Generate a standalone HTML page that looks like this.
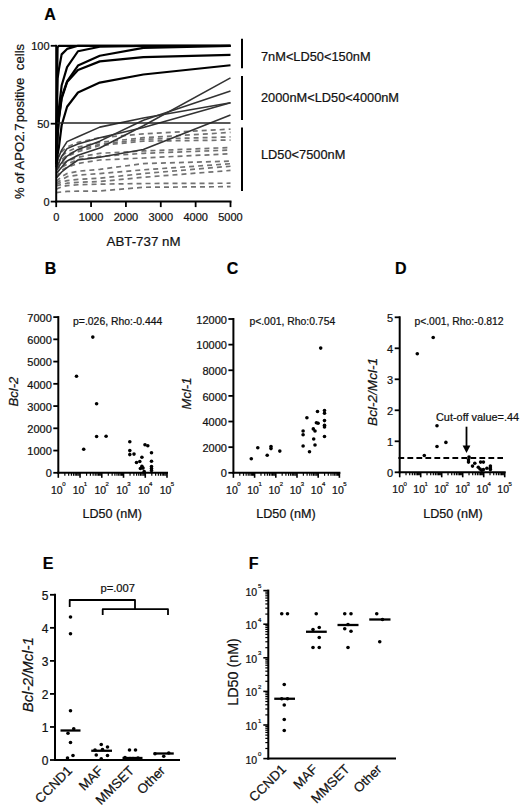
<!DOCTYPE html>
<html><head><meta charset="utf-8"><style>
html,body{margin:0;padding:0;background:#fff;width:520px;height:812px;overflow:hidden;}
svg{display:block;}
text{font-family:"Liberation Sans", sans-serif;stroke:#111;stroke-width:0.22px;}
</style></head><body>
<svg width="520" height="812" viewBox="0 0 520 812" font-family="Liberation Sans, sans-serif">
<rect width="520" height="812" fill="#fff"/>
<text x="50.00" y="19.50" font-size="16" text-anchor="middle" font-weight="bold" font-style="normal" fill="#000" >A</text>
<polyline points="56.20,159.53 61.64,151.74 67.08,147.07 77.99,142.40 99.78,137.72 143.35,133.83 230.50,129.15" fill="none" stroke="#727272" stroke-width="1.7" stroke-linejoin="round" stroke-dasharray="5,4" opacity="1"/>
<polyline points="56.20,162.65 61.64,156.42 67.08,151.74 77.99,147.07 99.78,142.40 143.35,137.72 230.50,132.42" fill="none" stroke="#727272" stroke-width="1.7" stroke-linejoin="round" stroke-dasharray="5,4" opacity="1"/>
<polyline points="56.20,165.77 61.64,159.53 67.08,154.86 77.99,150.19 99.78,144.42 143.35,139.28 230.50,136.94" fill="none" stroke="#727272" stroke-width="1.7" stroke-linejoin="round" stroke-dasharray="5,4" opacity="1"/>
<polyline points="56.20,167.32 61.64,161.09 67.08,156.42 77.99,151.74 99.78,145.51 143.35,141.15 230.50,140.06" fill="none" stroke="#727272" stroke-width="1.7" stroke-linejoin="round" stroke-dasharray="5,4" opacity="1"/>
<polyline points="56.20,170.44 61.64,164.21 67.08,161.09 77.99,157.20 99.78,153.30 143.35,150.96 230.50,147.54" fill="none" stroke="#727272" stroke-width="1.7" stroke-linejoin="round" stroke-dasharray="5,4" opacity="1"/>
<polyline points="56.20,173.56 61.64,167.32 67.08,164.21 77.99,159.53 99.78,156.42 143.35,153.30 230.50,150.03" fill="none" stroke="#727272" stroke-width="1.7" stroke-linejoin="round" stroke-dasharray="5,4" opacity="1"/>
<polyline points="56.20,176.67 61.64,170.44 67.08,167.32 77.99,163.43 99.78,160.00 143.35,157.98 230.50,153.77" fill="none" stroke="#727272" stroke-width="1.7" stroke-linejoin="round" stroke-dasharray="5,4" opacity="1"/>
<polyline points="56.20,181.35 61.64,176.67 67.08,173.56 77.99,171.22 99.78,169.35 143.35,163.58 230.50,161.09" fill="none" stroke="#727272" stroke-width="1.7" stroke-linejoin="round" stroke-dasharray="5,4" opacity="1"/>
<polyline points="56.20,182.90 61.64,179.79 67.08,176.67 77.99,175.11 99.78,173.56 143.35,169.82 230.50,163.74" fill="none" stroke="#727272" stroke-width="1.7" stroke-linejoin="round" stroke-dasharray="5,4" opacity="1"/>
<polyline points="56.20,184.46 61.64,182.12 67.08,180.57 77.99,179.32 99.78,178.23 143.35,173.56 230.50,166.23" fill="none" stroke="#727272" stroke-width="1.7" stroke-linejoin="round" stroke-dasharray="5,4" opacity="1"/>
<polyline points="56.20,186.02 61.64,184.46 67.08,183.22 77.99,182.28 99.78,181.50 143.35,177.30 230.50,170.44" fill="none" stroke="#727272" stroke-width="1.7" stroke-linejoin="round" stroke-dasharray="5,4" opacity="1"/>
<polyline points="56.20,189.14 61.64,186.80 67.08,185.55 77.99,184.77 99.78,184.15 143.35,183.53 230.50,183.22" fill="none" stroke="#727272" stroke-width="1.7" stroke-linejoin="round" stroke-dasharray="5,4" opacity="1"/>
<polyline points="56.20,192.56 61.64,191.94 67.08,191.47 77.99,191.16 99.78,191.01 143.35,187.27 230.50,186.64" fill="none" stroke="#727272" stroke-width="1.7" stroke-linejoin="round" stroke-dasharray="5,4" opacity="1"/>
<polyline points="56.20,162.65 61.64,150.19 67.08,141.62 77.99,136.79 99.78,127.13 143.35,117.94 230.50,102.67" fill="none" stroke="#333" stroke-width="1.6" stroke-linejoin="round"  opacity="1"/>
<polyline points="56.20,168.88 61.64,156.42 67.08,148.63 77.99,143.95 99.78,137.72 143.35,127.59 230.50,102.67" fill="none" stroke="#333" stroke-width="1.6" stroke-linejoin="round"  opacity="1"/>
<polyline points="56.20,170.44 61.64,162.65 67.08,156.11 77.99,149.41 99.78,141.15 143.35,120.27 230.50,90.98" fill="none" stroke="#333" stroke-width="1.6" stroke-linejoin="round"  opacity="1"/>
<polyline points="56.20,173.56 61.64,167.32 67.08,160.94 77.99,155.17 99.78,148.00 143.35,125.73 230.50,77.89" fill="none" stroke="#333" stroke-width="1.6" stroke-linejoin="round"  opacity="1"/>
<polyline points="56.20,178.23 61.64,172.00 67.08,167.64 77.99,160.00 99.78,157.20 143.35,149.56 230.50,114.98" fill="none" stroke="#333" stroke-width="1.6" stroke-linejoin="round"  opacity="1"/>
<polyline points="56.20,154.86 57.56,47.36 58.92,45.80 61.64,45.80 67.08,45.80 77.99,45.80 99.78,45.80 143.35,45.80 230.50,45.80" fill="none" stroke="#000" stroke-width="2.2" stroke-linejoin="round"  opacity="1"/>
<polyline points="56.20,157.98 57.56,78.52 58.92,69.17 61.64,54.37 67.08,48.92 77.99,45.80 99.78,45.80 143.35,45.80 230.50,45.80" fill="none" stroke="#000" stroke-width="2.2" stroke-linejoin="round"  opacity="1"/>
<polyline points="56.20,161.09 57.56,126.82 58.92,108.12 61.64,85.53 67.08,67.14 77.99,51.25 99.78,46.73 143.35,45.80 230.50,45.80" fill="none" stroke="#000" stroke-width="2.2" stroke-linejoin="round"  opacity="1"/>
<polyline points="56.20,164.21 57.56,136.16 58.92,117.47 61.64,97.21 67.08,81.32 77.99,65.59 99.78,55.77 143.35,47.83 230.50,45.80" fill="none" stroke="#000" stroke-width="2.2" stroke-linejoin="round"  opacity="1"/>
<polyline points="56.20,164.21 57.56,136.16 58.92,119.03 61.64,98.77 67.08,82.10 77.99,70.10 99.78,61.38 143.35,57.17 230.50,54.84" fill="none" stroke="#000" stroke-width="2.2" stroke-linejoin="round"  opacity="1"/>
<polyline points="56.20,167.32 57.56,154.86 58.92,147.07 61.64,125.26 67.08,106.72 77.99,92.54 99.78,82.57 143.35,74.47 230.50,65.27" fill="none" stroke="#000" stroke-width="2.2" stroke-linejoin="round"  opacity="1"/>
<line x1="56.20" y1="123.00" x2="230.50" y2="123.00" stroke="#222" stroke-width="1.3" />
<line x1="56.20" y1="44.80" x2="56.20" y2="202.60" stroke="#000" stroke-width="2" />
<line x1="55.20" y1="201.60" x2="231.50" y2="201.60" stroke="#000" stroke-width="2" />
<line x1="50.70" y1="201.60" x2="56.20" y2="201.60" stroke="#000" stroke-width="1.8" />
<text x="49.50" y="206.25" font-size="11" text-anchor="end" font-weight="normal" font-style="normal" fill="#111" >0</text>
<line x1="50.70" y1="123.70" x2="56.20" y2="123.70" stroke="#000" stroke-width="1.8" />
<text x="49.50" y="128.35" font-size="11" text-anchor="end" font-weight="normal" font-style="normal" fill="#111" >50</text>
<line x1="50.70" y1="45.80" x2="56.20" y2="45.80" stroke="#000" stroke-width="1.8" />
<text x="49.50" y="50.45" font-size="11" text-anchor="end" font-weight="normal" font-style="normal" fill="#111" >100</text>
<line x1="56.20" y1="201.60" x2="56.20" y2="207.10" stroke="#000" stroke-width="1.8" />
<text x="56.20" y="220.60" font-size="11" text-anchor="middle" font-weight="normal" font-style="normal" fill="#111" >0</text>
<line x1="91.06" y1="201.60" x2="91.06" y2="207.10" stroke="#000" stroke-width="1.8" />
<text x="91.06" y="220.60" font-size="11" text-anchor="middle" font-weight="normal" font-style="normal" fill="#111" >1000</text>
<line x1="125.92" y1="201.60" x2="125.92" y2="207.10" stroke="#000" stroke-width="1.8" />
<text x="125.92" y="220.60" font-size="11" text-anchor="middle" font-weight="normal" font-style="normal" fill="#111" >2000</text>
<line x1="160.78" y1="201.60" x2="160.78" y2="207.10" stroke="#000" stroke-width="1.8" />
<text x="160.78" y="220.60" font-size="11" text-anchor="middle" font-weight="normal" font-style="normal" fill="#111" >3000</text>
<line x1="195.64" y1="201.60" x2="195.64" y2="207.10" stroke="#000" stroke-width="1.8" />
<text x="195.64" y="220.60" font-size="11" text-anchor="middle" font-weight="normal" font-style="normal" fill="#111" >4000</text>
<line x1="230.50" y1="201.60" x2="230.50" y2="207.10" stroke="#000" stroke-width="1.8" />
<text x="230.50" y="220.60" font-size="11" text-anchor="middle" font-weight="normal" font-style="normal" fill="#111" >5000</text>
<text x="143.50" y="246.20" font-size="13.3" text-anchor="middle" font-weight="normal" font-style="normal" fill="#111" >ABT-737 nM</text>
<text xml:space="preserve" transform="translate(23.9,121.4) rotate(-90)" font-size="13.2" text-anchor="middle" fill="#111">% of APO2.7<tspan dx="1.2">positive  cells</tspan></text>
<line x1="242.00" y1="38.80" x2="242.00" y2="68.30" stroke="#000" stroke-width="2" />
<line x1="242.00" y1="76.00" x2="242.00" y2="120.00" stroke="#000" stroke-width="2" />
<line x1="242.00" y1="127.40" x2="242.00" y2="191.00" stroke="#000" stroke-width="2" />
<text x="261.00" y="61.00" font-size="12.8" text-anchor="start" font-weight="normal" font-style="normal" fill="#111" >7nM&lt;LD50&lt;150nM</text>
<text x="261.00" y="101.50" font-size="12.8" text-anchor="start" font-weight="normal" font-style="normal" fill="#111" >2000nM&lt;LD50&lt;4000nM</text>
<text x="261.00" y="159.00" font-size="12.8" text-anchor="start" font-weight="normal" font-style="normal" fill="#111" >LD50&lt;7500nM</text>
<text x="50.50" y="273.50" font-size="16" text-anchor="middle" font-weight="bold" font-style="normal" fill="#000" >B</text>
<line x1="58.30" y1="316.10" x2="58.30" y2="473.80" stroke="#000" stroke-width="2" />
<line x1="53.30" y1="472.80" x2="58.30" y2="472.80" stroke="#000" stroke-width="1.8" />
<text x="51.80" y="477.49" font-size="11" text-anchor="end" font-weight="normal" font-style="normal" fill="#111" >0</text>
<line x1="53.30" y1="450.56" x2="58.30" y2="450.56" stroke="#000" stroke-width="1.8" />
<text x="51.80" y="455.25" font-size="11" text-anchor="end" font-weight="normal" font-style="normal" fill="#111" >1000</text>
<line x1="53.30" y1="428.31" x2="58.30" y2="428.31" stroke="#000" stroke-width="1.8" />
<text x="51.80" y="433.00" font-size="11" text-anchor="end" font-weight="normal" font-style="normal" fill="#111" >2000</text>
<line x1="53.30" y1="406.07" x2="58.30" y2="406.07" stroke="#000" stroke-width="1.8" />
<text x="51.80" y="410.76" font-size="11" text-anchor="end" font-weight="normal" font-style="normal" fill="#111" >3000</text>
<line x1="53.30" y1="383.83" x2="58.30" y2="383.83" stroke="#000" stroke-width="1.8" />
<text x="51.80" y="388.52" font-size="11" text-anchor="end" font-weight="normal" font-style="normal" fill="#111" >4000</text>
<line x1="53.30" y1="361.59" x2="58.30" y2="361.59" stroke="#000" stroke-width="1.8" />
<text x="51.80" y="366.27" font-size="11" text-anchor="end" font-weight="normal" font-style="normal" fill="#111" >5000</text>
<line x1="53.30" y1="339.34" x2="58.30" y2="339.34" stroke="#000" stroke-width="1.8" />
<text x="51.80" y="344.03" font-size="11" text-anchor="end" font-weight="normal" font-style="normal" fill="#111" >6000</text>
<line x1="53.30" y1="317.10" x2="58.30" y2="317.10" stroke="#000" stroke-width="1.8" />
<text x="51.80" y="321.79" font-size="11" text-anchor="end" font-weight="normal" font-style="normal" fill="#111" >7000</text>
<line x1="57.30" y1="472.80" x2="168.00" y2="472.80" stroke="#000" stroke-width="2" />
<line x1="58.30" y1="472.80" x2="58.30" y2="477.80" stroke="#000" stroke-width="1.6" />
<text x="56.80" y="493.60" font-size="10.5" text-anchor="middle" font-weight="normal" font-style="normal" fill="#111" >10</text>
<text x="63.80" y="486.30" font-size="6" text-anchor="middle" font-weight="normal" font-style="normal" fill="#111" >0</text>
<line x1="64.84" y1="472.80" x2="64.84" y2="475.80" stroke="#000" stroke-width="1.2" />
<line x1="68.67" y1="472.80" x2="68.67" y2="475.80" stroke="#000" stroke-width="1.2" />
<line x1="71.39" y1="472.80" x2="71.39" y2="475.80" stroke="#000" stroke-width="1.2" />
<line x1="73.50" y1="472.80" x2="73.50" y2="475.80" stroke="#000" stroke-width="1.2" />
<line x1="75.22" y1="472.80" x2="75.22" y2="475.80" stroke="#000" stroke-width="1.2" />
<line x1="76.67" y1="472.80" x2="76.67" y2="475.80" stroke="#000" stroke-width="1.2" />
<line x1="77.93" y1="472.80" x2="77.93" y2="475.80" stroke="#000" stroke-width="1.2" />
<line x1="79.05" y1="472.80" x2="79.05" y2="475.80" stroke="#000" stroke-width="1.2" />
<line x1="80.04" y1="472.80" x2="80.04" y2="477.80" stroke="#000" stroke-width="1.6" />
<text x="78.54" y="493.60" font-size="10.5" text-anchor="middle" font-weight="normal" font-style="normal" fill="#111" >10</text>
<text x="85.54" y="486.30" font-size="6" text-anchor="middle" font-weight="normal" font-style="normal" fill="#111" >1</text>
<line x1="86.58" y1="472.80" x2="86.58" y2="475.80" stroke="#000" stroke-width="1.2" />
<line x1="90.41" y1="472.80" x2="90.41" y2="475.80" stroke="#000" stroke-width="1.2" />
<line x1="93.13" y1="472.80" x2="93.13" y2="475.80" stroke="#000" stroke-width="1.2" />
<line x1="95.24" y1="472.80" x2="95.24" y2="475.80" stroke="#000" stroke-width="1.2" />
<line x1="96.96" y1="472.80" x2="96.96" y2="475.80" stroke="#000" stroke-width="1.2" />
<line x1="98.41" y1="472.80" x2="98.41" y2="475.80" stroke="#000" stroke-width="1.2" />
<line x1="99.67" y1="472.80" x2="99.67" y2="475.80" stroke="#000" stroke-width="1.2" />
<line x1="100.79" y1="472.80" x2="100.79" y2="475.80" stroke="#000" stroke-width="1.2" />
<line x1="101.78" y1="472.80" x2="101.78" y2="477.80" stroke="#000" stroke-width="1.6" />
<text x="100.28" y="493.60" font-size="10.5" text-anchor="middle" font-weight="normal" font-style="normal" fill="#111" >10</text>
<text x="107.28" y="486.30" font-size="6" text-anchor="middle" font-weight="normal" font-style="normal" fill="#111" >2</text>
<line x1="108.32" y1="472.80" x2="108.32" y2="475.80" stroke="#000" stroke-width="1.2" />
<line x1="112.15" y1="472.80" x2="112.15" y2="475.80" stroke="#000" stroke-width="1.2" />
<line x1="114.87" y1="472.80" x2="114.87" y2="475.80" stroke="#000" stroke-width="1.2" />
<line x1="116.98" y1="472.80" x2="116.98" y2="475.80" stroke="#000" stroke-width="1.2" />
<line x1="118.70" y1="472.80" x2="118.70" y2="475.80" stroke="#000" stroke-width="1.2" />
<line x1="120.15" y1="472.80" x2="120.15" y2="475.80" stroke="#000" stroke-width="1.2" />
<line x1="121.41" y1="472.80" x2="121.41" y2="475.80" stroke="#000" stroke-width="1.2" />
<line x1="122.53" y1="472.80" x2="122.53" y2="475.80" stroke="#000" stroke-width="1.2" />
<line x1="123.52" y1="472.80" x2="123.52" y2="477.80" stroke="#000" stroke-width="1.6" />
<text x="122.02" y="493.60" font-size="10.5" text-anchor="middle" font-weight="normal" font-style="normal" fill="#111" >10</text>
<text x="129.02" y="486.30" font-size="6" text-anchor="middle" font-weight="normal" font-style="normal" fill="#111" >3</text>
<line x1="130.06" y1="472.80" x2="130.06" y2="475.80" stroke="#000" stroke-width="1.2" />
<line x1="133.89" y1="472.80" x2="133.89" y2="475.80" stroke="#000" stroke-width="1.2" />
<line x1="136.61" y1="472.80" x2="136.61" y2="475.80" stroke="#000" stroke-width="1.2" />
<line x1="138.72" y1="472.80" x2="138.72" y2="475.80" stroke="#000" stroke-width="1.2" />
<line x1="140.44" y1="472.80" x2="140.44" y2="475.80" stroke="#000" stroke-width="1.2" />
<line x1="141.89" y1="472.80" x2="141.89" y2="475.80" stroke="#000" stroke-width="1.2" />
<line x1="143.15" y1="472.80" x2="143.15" y2="475.80" stroke="#000" stroke-width="1.2" />
<line x1="144.27" y1="472.80" x2="144.27" y2="475.80" stroke="#000" stroke-width="1.2" />
<line x1="145.26" y1="472.80" x2="145.26" y2="477.80" stroke="#000" stroke-width="1.6" />
<text x="143.76" y="493.60" font-size="10.5" text-anchor="middle" font-weight="normal" font-style="normal" fill="#111" >10</text>
<text x="150.76" y="486.30" font-size="6" text-anchor="middle" font-weight="normal" font-style="normal" fill="#111" >4</text>
<line x1="151.80" y1="472.80" x2="151.80" y2="475.80" stroke="#000" stroke-width="1.2" />
<line x1="155.63" y1="472.80" x2="155.63" y2="475.80" stroke="#000" stroke-width="1.2" />
<line x1="158.35" y1="472.80" x2="158.35" y2="475.80" stroke="#000" stroke-width="1.2" />
<line x1="160.46" y1="472.80" x2="160.46" y2="475.80" stroke="#000" stroke-width="1.2" />
<line x1="162.18" y1="472.80" x2="162.18" y2="475.80" stroke="#000" stroke-width="1.2" />
<line x1="163.63" y1="472.80" x2="163.63" y2="475.80" stroke="#000" stroke-width="1.2" />
<line x1="164.89" y1="472.80" x2="164.89" y2="475.80" stroke="#000" stroke-width="1.2" />
<line x1="166.01" y1="472.80" x2="166.01" y2="475.80" stroke="#000" stroke-width="1.2" />
<line x1="167.00" y1="472.80" x2="167.00" y2="477.80" stroke="#000" stroke-width="1.6" />
<text x="165.50" y="493.60" font-size="10.5" text-anchor="middle" font-weight="normal" font-style="normal" fill="#111" >10</text>
<text x="172.50" y="486.30" font-size="6" text-anchor="middle" font-weight="normal" font-style="normal" fill="#111" >5</text>
<text x="73.10" y="324.80" font-size="10.4" text-anchor="start" font-weight="normal" font-style="normal" fill="#111" >p=.026, Rho:-0.444</text>
<text transform="translate(18.3,391.6) rotate(-90)" font-size="13" font-style="italic" text-anchor="middle" fill="#111">Bcl-2</text>
<text x="112.20" y="518.20" font-size="12.6" text-anchor="middle" font-weight="normal" font-style="normal" fill="#111" >LD50 (nM)</text>
<circle cx="92.80" cy="337.10" r="1.8" fill="#000"/>
<circle cx="76.50" cy="376.20" r="1.8" fill="#000"/>
<circle cx="96.60" cy="403.70" r="1.8" fill="#000"/>
<circle cx="96.60" cy="436.50" r="1.8" fill="#000"/>
<circle cx="106.10" cy="436.30" r="1.8" fill="#000"/>
<circle cx="83.70" cy="449.20" r="1.8" fill="#000"/>
<circle cx="129.80" cy="441.70" r="1.8" fill="#000"/>
<circle cx="129.80" cy="450.60" r="1.8" fill="#000"/>
<circle cx="129.80" cy="454.60" r="1.8" fill="#000"/>
<circle cx="134.00" cy="454.10" r="1.8" fill="#000"/>
<circle cx="145.00" cy="444.80" r="1.8" fill="#000"/>
<circle cx="147.80" cy="445.80" r="1.8" fill="#000"/>
<circle cx="151.50" cy="452.80" r="1.8" fill="#000"/>
<circle cx="141.90" cy="457.30" r="1.8" fill="#000"/>
<circle cx="139.80" cy="461.50" r="1.8" fill="#000"/>
<circle cx="136.50" cy="462.50" r="1.8" fill="#000"/>
<circle cx="151.50" cy="461.20" r="1.8" fill="#000"/>
<circle cx="141.90" cy="466.20" r="1.8" fill="#000"/>
<circle cx="140.40" cy="468.50" r="1.8" fill="#000"/>
<circle cx="143.00" cy="468.10" r="1.8" fill="#000"/>
<circle cx="151.50" cy="466.50" r="1.8" fill="#000"/>
<circle cx="151.50" cy="468.50" r="1.8" fill="#000"/>
<circle cx="151.50" cy="470.40" r="1.8" fill="#000"/>
<circle cx="144.20" cy="471.50" r="1.8" fill="#000"/>
<text x="232.50" y="273.50" font-size="16" text-anchor="middle" font-weight="bold" font-style="normal" fill="#000" >C</text>
<line x1="233.40" y1="318.00" x2="233.40" y2="473.80" stroke="#000" stroke-width="2" />
<line x1="228.40" y1="472.80" x2="233.40" y2="472.80" stroke="#000" stroke-width="1.8" />
<text x="226.90" y="477.49" font-size="11" text-anchor="end" font-weight="normal" font-style="normal" fill="#111" >0</text>
<line x1="228.40" y1="447.17" x2="233.40" y2="447.17" stroke="#000" stroke-width="1.8" />
<text x="226.90" y="451.85" font-size="11" text-anchor="end" font-weight="normal" font-style="normal" fill="#111" >2000</text>
<line x1="228.40" y1="421.53" x2="233.40" y2="421.53" stroke="#000" stroke-width="1.8" />
<text x="226.90" y="426.22" font-size="11" text-anchor="end" font-weight="normal" font-style="normal" fill="#111" >4000</text>
<line x1="228.40" y1="395.90" x2="233.40" y2="395.90" stroke="#000" stroke-width="1.8" />
<text x="226.90" y="400.59" font-size="11" text-anchor="end" font-weight="normal" font-style="normal" fill="#111" >6000</text>
<line x1="228.40" y1="370.27" x2="233.40" y2="370.27" stroke="#000" stroke-width="1.8" />
<text x="226.90" y="374.95" font-size="11" text-anchor="end" font-weight="normal" font-style="normal" fill="#111" >8000</text>
<line x1="228.40" y1="344.63" x2="233.40" y2="344.63" stroke="#000" stroke-width="1.8" />
<text x="226.90" y="349.32" font-size="11" text-anchor="end" font-weight="normal" font-style="normal" fill="#111" >10000</text>
<line x1="228.40" y1="319.00" x2="233.40" y2="319.00" stroke="#000" stroke-width="1.8" />
<text x="226.90" y="323.69" font-size="11" text-anchor="end" font-weight="normal" font-style="normal" fill="#111" >12000</text>
<line x1="232.40" y1="472.80" x2="340.40" y2="472.80" stroke="#000" stroke-width="2" />
<line x1="233.40" y1="472.80" x2="233.40" y2="477.80" stroke="#000" stroke-width="1.6" />
<text x="231.90" y="493.60" font-size="10.5" text-anchor="middle" font-weight="normal" font-style="normal" fill="#111" >10</text>
<text x="238.90" y="486.30" font-size="6" text-anchor="middle" font-weight="normal" font-style="normal" fill="#111" >0</text>
<line x1="239.78" y1="472.80" x2="239.78" y2="475.80" stroke="#000" stroke-width="1.2" />
<line x1="243.51" y1="472.80" x2="243.51" y2="475.80" stroke="#000" stroke-width="1.2" />
<line x1="246.16" y1="472.80" x2="246.16" y2="475.80" stroke="#000" stroke-width="1.2" />
<line x1="248.22" y1="472.80" x2="248.22" y2="475.80" stroke="#000" stroke-width="1.2" />
<line x1="249.90" y1="472.80" x2="249.90" y2="475.80" stroke="#000" stroke-width="1.2" />
<line x1="251.32" y1="472.80" x2="251.32" y2="475.80" stroke="#000" stroke-width="1.2" />
<line x1="252.55" y1="472.80" x2="252.55" y2="475.80" stroke="#000" stroke-width="1.2" />
<line x1="253.63" y1="472.80" x2="253.63" y2="475.80" stroke="#000" stroke-width="1.2" />
<line x1="254.60" y1="472.80" x2="254.60" y2="477.80" stroke="#000" stroke-width="1.6" />
<text x="253.10" y="493.60" font-size="10.5" text-anchor="middle" font-weight="normal" font-style="normal" fill="#111" >10</text>
<text x="260.10" y="486.30" font-size="6" text-anchor="middle" font-weight="normal" font-style="normal" fill="#111" >1</text>
<line x1="260.98" y1="472.80" x2="260.98" y2="475.80" stroke="#000" stroke-width="1.2" />
<line x1="264.71" y1="472.80" x2="264.71" y2="475.80" stroke="#000" stroke-width="1.2" />
<line x1="267.36" y1="472.80" x2="267.36" y2="475.80" stroke="#000" stroke-width="1.2" />
<line x1="269.42" y1="472.80" x2="269.42" y2="475.80" stroke="#000" stroke-width="1.2" />
<line x1="271.10" y1="472.80" x2="271.10" y2="475.80" stroke="#000" stroke-width="1.2" />
<line x1="272.52" y1="472.80" x2="272.52" y2="475.80" stroke="#000" stroke-width="1.2" />
<line x1="273.75" y1="472.80" x2="273.75" y2="475.80" stroke="#000" stroke-width="1.2" />
<line x1="274.83" y1="472.80" x2="274.83" y2="475.80" stroke="#000" stroke-width="1.2" />
<line x1="275.80" y1="472.80" x2="275.80" y2="477.80" stroke="#000" stroke-width="1.6" />
<text x="274.30" y="493.60" font-size="10.5" text-anchor="middle" font-weight="normal" font-style="normal" fill="#111" >10</text>
<text x="281.30" y="486.30" font-size="6" text-anchor="middle" font-weight="normal" font-style="normal" fill="#111" >2</text>
<line x1="282.18" y1="472.80" x2="282.18" y2="475.80" stroke="#000" stroke-width="1.2" />
<line x1="285.91" y1="472.80" x2="285.91" y2="475.80" stroke="#000" stroke-width="1.2" />
<line x1="288.56" y1="472.80" x2="288.56" y2="475.80" stroke="#000" stroke-width="1.2" />
<line x1="290.62" y1="472.80" x2="290.62" y2="475.80" stroke="#000" stroke-width="1.2" />
<line x1="292.30" y1="472.80" x2="292.30" y2="475.80" stroke="#000" stroke-width="1.2" />
<line x1="293.72" y1="472.80" x2="293.72" y2="475.80" stroke="#000" stroke-width="1.2" />
<line x1="294.95" y1="472.80" x2="294.95" y2="475.80" stroke="#000" stroke-width="1.2" />
<line x1="296.03" y1="472.80" x2="296.03" y2="475.80" stroke="#000" stroke-width="1.2" />
<line x1="297.00" y1="472.80" x2="297.00" y2="477.80" stroke="#000" stroke-width="1.6" />
<text x="295.50" y="493.60" font-size="10.5" text-anchor="middle" font-weight="normal" font-style="normal" fill="#111" >10</text>
<text x="302.50" y="486.30" font-size="6" text-anchor="middle" font-weight="normal" font-style="normal" fill="#111" >3</text>
<line x1="303.38" y1="472.80" x2="303.38" y2="475.80" stroke="#000" stroke-width="1.2" />
<line x1="307.11" y1="472.80" x2="307.11" y2="475.80" stroke="#000" stroke-width="1.2" />
<line x1="309.76" y1="472.80" x2="309.76" y2="475.80" stroke="#000" stroke-width="1.2" />
<line x1="311.82" y1="472.80" x2="311.82" y2="475.80" stroke="#000" stroke-width="1.2" />
<line x1="313.50" y1="472.80" x2="313.50" y2="475.80" stroke="#000" stroke-width="1.2" />
<line x1="314.92" y1="472.80" x2="314.92" y2="475.80" stroke="#000" stroke-width="1.2" />
<line x1="316.15" y1="472.80" x2="316.15" y2="475.80" stroke="#000" stroke-width="1.2" />
<line x1="317.23" y1="472.80" x2="317.23" y2="475.80" stroke="#000" stroke-width="1.2" />
<line x1="318.20" y1="472.80" x2="318.20" y2="477.80" stroke="#000" stroke-width="1.6" />
<text x="316.70" y="493.60" font-size="10.5" text-anchor="middle" font-weight="normal" font-style="normal" fill="#111" >10</text>
<text x="323.70" y="486.30" font-size="6" text-anchor="middle" font-weight="normal" font-style="normal" fill="#111" >4</text>
<line x1="324.58" y1="472.80" x2="324.58" y2="475.80" stroke="#000" stroke-width="1.2" />
<line x1="328.31" y1="472.80" x2="328.31" y2="475.80" stroke="#000" stroke-width="1.2" />
<line x1="330.96" y1="472.80" x2="330.96" y2="475.80" stroke="#000" stroke-width="1.2" />
<line x1="333.02" y1="472.80" x2="333.02" y2="475.80" stroke="#000" stroke-width="1.2" />
<line x1="334.70" y1="472.80" x2="334.70" y2="475.80" stroke="#000" stroke-width="1.2" />
<line x1="336.12" y1="472.80" x2="336.12" y2="475.80" stroke="#000" stroke-width="1.2" />
<line x1="337.35" y1="472.80" x2="337.35" y2="475.80" stroke="#000" stroke-width="1.2" />
<line x1="338.43" y1="472.80" x2="338.43" y2="475.80" stroke="#000" stroke-width="1.2" />
<line x1="339.40" y1="472.80" x2="339.40" y2="477.80" stroke="#000" stroke-width="1.6" />
<text x="337.90" y="493.60" font-size="10.5" text-anchor="middle" font-weight="normal" font-style="normal" fill="#111" >10</text>
<text x="344.90" y="486.30" font-size="6" text-anchor="middle" font-weight="normal" font-style="normal" fill="#111" >5</text>
<text x="249.40" y="324.50" font-size="10.4" text-anchor="start" font-weight="normal" font-style="normal" fill="#111" >p&lt;.001, Rho:0.754</text>
<text transform="translate(191.2,393.5) rotate(-90)" font-size="13" font-style="italic" text-anchor="middle" fill="#111">Mcl-1</text>
<text x="286.00" y="518.20" font-size="12.6" text-anchor="middle" font-weight="normal" font-style="normal" fill="#111" >LD50 (nM)</text>
<circle cx="320.70" cy="348.10" r="1.8" fill="#000"/>
<circle cx="251.30" cy="458.70" r="1.8" fill="#000"/>
<circle cx="257.80" cy="447.70" r="1.8" fill="#000"/>
<circle cx="267.20" cy="455.30" r="1.8" fill="#000"/>
<circle cx="271.00" cy="446.50" r="1.8" fill="#000"/>
<circle cx="271.00" cy="448.60" r="1.8" fill="#000"/>
<circle cx="279.80" cy="451.10" r="1.8" fill="#000"/>
<circle cx="303.10" cy="446.00" r="1.8" fill="#000"/>
<circle cx="303.10" cy="434.80" r="1.8" fill="#000"/>
<circle cx="303.10" cy="431.00" r="1.8" fill="#000"/>
<circle cx="306.90" cy="417.70" r="1.8" fill="#000"/>
<circle cx="309.50" cy="451.70" r="1.8" fill="#000"/>
<circle cx="313.30" cy="428.90" r="1.8" fill="#000"/>
<circle cx="315.00" cy="431.00" r="1.8" fill="#000"/>
<circle cx="313.70" cy="439.00" r="1.8" fill="#000"/>
<circle cx="315.00" cy="445.00" r="1.8" fill="#000"/>
<circle cx="316.40" cy="422.80" r="1.8" fill="#000"/>
<circle cx="318.10" cy="423.20" r="1.8" fill="#000"/>
<circle cx="317.50" cy="411.50" r="1.8" fill="#000"/>
<circle cx="324.50" cy="410.50" r="1.8" fill="#000"/>
<circle cx="324.50" cy="413.20" r="1.8" fill="#000"/>
<circle cx="324.50" cy="420.60" r="1.8" fill="#000"/>
<circle cx="324.50" cy="425.30" r="1.8" fill="#000"/>
<circle cx="324.50" cy="427.00" r="1.8" fill="#000"/>
<circle cx="324.50" cy="436.50" r="1.8" fill="#000"/>
<text x="400.90" y="273.50" font-size="16" text-anchor="middle" font-weight="bold" font-style="normal" fill="#000" >D</text>
<line x1="399.70" y1="316.30" x2="399.70" y2="473.30" stroke="#000" stroke-width="2" />
<line x1="394.70" y1="472.30" x2="399.70" y2="472.30" stroke="#000" stroke-width="1.8" />
<text x="393.20" y="476.99" font-size="11" text-anchor="end" font-weight="normal" font-style="normal" fill="#111" >0</text>
<line x1="394.70" y1="441.30" x2="399.70" y2="441.30" stroke="#000" stroke-width="1.8" />
<text x="393.20" y="445.99" font-size="11" text-anchor="end" font-weight="normal" font-style="normal" fill="#111" >1</text>
<line x1="394.70" y1="410.30" x2="399.70" y2="410.30" stroke="#000" stroke-width="1.8" />
<text x="393.20" y="414.99" font-size="11" text-anchor="end" font-weight="normal" font-style="normal" fill="#111" >2</text>
<line x1="394.70" y1="379.30" x2="399.70" y2="379.30" stroke="#000" stroke-width="1.8" />
<text x="393.20" y="383.99" font-size="11" text-anchor="end" font-weight="normal" font-style="normal" fill="#111" >3</text>
<line x1="394.70" y1="348.30" x2="399.70" y2="348.30" stroke="#000" stroke-width="1.8" />
<text x="393.20" y="352.99" font-size="11" text-anchor="end" font-weight="normal" font-style="normal" fill="#111" >4</text>
<line x1="394.70" y1="317.30" x2="399.70" y2="317.30" stroke="#000" stroke-width="1.8" />
<text x="393.20" y="321.99" font-size="11" text-anchor="end" font-weight="normal" font-style="normal" fill="#111" >5</text>
<line x1="398.70" y1="472.30" x2="505.70" y2="472.30" stroke="#000" stroke-width="2" />
<line x1="399.70" y1="472.30" x2="399.70" y2="477.30" stroke="#000" stroke-width="1.6" />
<text x="398.20" y="493.10" font-size="10.5" text-anchor="middle" font-weight="normal" font-style="normal" fill="#111" >10</text>
<text x="405.20" y="485.80" font-size="6" text-anchor="middle" font-weight="normal" font-style="normal" fill="#111" >0</text>
<line x1="406.02" y1="472.30" x2="406.02" y2="475.30" stroke="#000" stroke-width="1.2" />
<line x1="409.72" y1="472.30" x2="409.72" y2="475.30" stroke="#000" stroke-width="1.2" />
<line x1="412.34" y1="472.30" x2="412.34" y2="475.30" stroke="#000" stroke-width="1.2" />
<line x1="414.38" y1="472.30" x2="414.38" y2="475.30" stroke="#000" stroke-width="1.2" />
<line x1="416.04" y1="472.30" x2="416.04" y2="475.30" stroke="#000" stroke-width="1.2" />
<line x1="417.45" y1="472.30" x2="417.45" y2="475.30" stroke="#000" stroke-width="1.2" />
<line x1="418.66" y1="472.30" x2="418.66" y2="475.30" stroke="#000" stroke-width="1.2" />
<line x1="419.74" y1="472.30" x2="419.74" y2="475.30" stroke="#000" stroke-width="1.2" />
<line x1="420.70" y1="472.30" x2="420.70" y2="477.30" stroke="#000" stroke-width="1.6" />
<text x="419.20" y="493.10" font-size="10.5" text-anchor="middle" font-weight="normal" font-style="normal" fill="#111" >10</text>
<text x="426.20" y="485.80" font-size="6" text-anchor="middle" font-weight="normal" font-style="normal" fill="#111" >1</text>
<line x1="427.02" y1="472.30" x2="427.02" y2="475.30" stroke="#000" stroke-width="1.2" />
<line x1="430.72" y1="472.30" x2="430.72" y2="475.30" stroke="#000" stroke-width="1.2" />
<line x1="433.34" y1="472.30" x2="433.34" y2="475.30" stroke="#000" stroke-width="1.2" />
<line x1="435.38" y1="472.30" x2="435.38" y2="475.30" stroke="#000" stroke-width="1.2" />
<line x1="437.04" y1="472.30" x2="437.04" y2="475.30" stroke="#000" stroke-width="1.2" />
<line x1="438.45" y1="472.30" x2="438.45" y2="475.30" stroke="#000" stroke-width="1.2" />
<line x1="439.66" y1="472.30" x2="439.66" y2="475.30" stroke="#000" stroke-width="1.2" />
<line x1="440.74" y1="472.30" x2="440.74" y2="475.30" stroke="#000" stroke-width="1.2" />
<line x1="441.70" y1="472.30" x2="441.70" y2="477.30" stroke="#000" stroke-width="1.6" />
<text x="440.20" y="493.10" font-size="10.5" text-anchor="middle" font-weight="normal" font-style="normal" fill="#111" >10</text>
<text x="447.20" y="485.80" font-size="6" text-anchor="middle" font-weight="normal" font-style="normal" fill="#111" >2</text>
<line x1="448.02" y1="472.30" x2="448.02" y2="475.30" stroke="#000" stroke-width="1.2" />
<line x1="451.72" y1="472.30" x2="451.72" y2="475.30" stroke="#000" stroke-width="1.2" />
<line x1="454.34" y1="472.30" x2="454.34" y2="475.30" stroke="#000" stroke-width="1.2" />
<line x1="456.38" y1="472.30" x2="456.38" y2="475.30" stroke="#000" stroke-width="1.2" />
<line x1="458.04" y1="472.30" x2="458.04" y2="475.30" stroke="#000" stroke-width="1.2" />
<line x1="459.45" y1="472.30" x2="459.45" y2="475.30" stroke="#000" stroke-width="1.2" />
<line x1="460.66" y1="472.30" x2="460.66" y2="475.30" stroke="#000" stroke-width="1.2" />
<line x1="461.74" y1="472.30" x2="461.74" y2="475.30" stroke="#000" stroke-width="1.2" />
<line x1="462.70" y1="472.30" x2="462.70" y2="477.30" stroke="#000" stroke-width="1.6" />
<text x="461.20" y="493.10" font-size="10.5" text-anchor="middle" font-weight="normal" font-style="normal" fill="#111" >10</text>
<text x="468.20" y="485.80" font-size="6" text-anchor="middle" font-weight="normal" font-style="normal" fill="#111" >3</text>
<line x1="469.02" y1="472.30" x2="469.02" y2="475.30" stroke="#000" stroke-width="1.2" />
<line x1="472.72" y1="472.30" x2="472.72" y2="475.30" stroke="#000" stroke-width="1.2" />
<line x1="475.34" y1="472.30" x2="475.34" y2="475.30" stroke="#000" stroke-width="1.2" />
<line x1="477.38" y1="472.30" x2="477.38" y2="475.30" stroke="#000" stroke-width="1.2" />
<line x1="479.04" y1="472.30" x2="479.04" y2="475.30" stroke="#000" stroke-width="1.2" />
<line x1="480.45" y1="472.30" x2="480.45" y2="475.30" stroke="#000" stroke-width="1.2" />
<line x1="481.66" y1="472.30" x2="481.66" y2="475.30" stroke="#000" stroke-width="1.2" />
<line x1="482.74" y1="472.30" x2="482.74" y2="475.30" stroke="#000" stroke-width="1.2" />
<line x1="483.70" y1="472.30" x2="483.70" y2="477.30" stroke="#000" stroke-width="1.6" />
<text x="482.20" y="493.10" font-size="10.5" text-anchor="middle" font-weight="normal" font-style="normal" fill="#111" >10</text>
<text x="489.20" y="485.80" font-size="6" text-anchor="middle" font-weight="normal" font-style="normal" fill="#111" >4</text>
<line x1="490.02" y1="472.30" x2="490.02" y2="475.30" stroke="#000" stroke-width="1.2" />
<line x1="493.72" y1="472.30" x2="493.72" y2="475.30" stroke="#000" stroke-width="1.2" />
<line x1="496.34" y1="472.30" x2="496.34" y2="475.30" stroke="#000" stroke-width="1.2" />
<line x1="498.38" y1="472.30" x2="498.38" y2="475.30" stroke="#000" stroke-width="1.2" />
<line x1="500.04" y1="472.30" x2="500.04" y2="475.30" stroke="#000" stroke-width="1.2" />
<line x1="501.45" y1="472.30" x2="501.45" y2="475.30" stroke="#000" stroke-width="1.2" />
<line x1="502.66" y1="472.30" x2="502.66" y2="475.30" stroke="#000" stroke-width="1.2" />
<line x1="503.74" y1="472.30" x2="503.74" y2="475.30" stroke="#000" stroke-width="1.2" />
<line x1="504.70" y1="472.30" x2="504.70" y2="477.30" stroke="#000" stroke-width="1.6" />
<text x="503.20" y="493.10" font-size="10.5" text-anchor="middle" font-weight="normal" font-style="normal" fill="#111" >10</text>
<text x="510.20" y="485.80" font-size="6" text-anchor="middle" font-weight="normal" font-style="normal" fill="#111" >5</text>
<text x="414.40" y="324.50" font-size="10.4" text-anchor="start" font-weight="normal" font-style="normal" fill="#111" >p&lt;.001, Rho:-0.812</text>
<text x="436.00" y="420.60" font-size="10.9" text-anchor="start" font-weight="normal" font-style="normal" fill="#111" >Cut-off value=.44</text>
<text transform="translate(377.3,391.9) rotate(-90)" font-size="13.6" font-style="italic" text-anchor="middle" fill="#111">Bcl-2/Mcl-1</text>
<text x="453.00" y="518.20" font-size="12.6" text-anchor="middle" font-weight="normal" font-style="normal" fill="#111" >LD50 (nM)</text>
<line x1="398.40" y1="458.00" x2="503.00" y2="458.00" stroke="#000" stroke-width="1.9" stroke-dasharray="5.8,3.2"/>
<line x1="466.50" y1="426.70" x2="466.50" y2="447.00" stroke="#000" stroke-width="1.8" />
<polygon points="462.6,445.5 470.4,445.5 466.5,453" fill="#000"/>
<circle cx="433.20" cy="337.50" r="1.8" fill="#000"/>
<circle cx="417.30" cy="353.80" r="1.8" fill="#000"/>
<circle cx="437.00" cy="425.70" r="1.8" fill="#000"/>
<circle cx="437.00" cy="446.50" r="1.8" fill="#000"/>
<circle cx="445.90" cy="442.40" r="1.8" fill="#000"/>
<circle cx="424.30" cy="455.50" r="1.8" fill="#000"/>
<circle cx="469.00" cy="457.10" r="1.8" fill="#000"/>
<circle cx="468.50" cy="459.80" r="1.8" fill="#000"/>
<circle cx="468.50" cy="462.10" r="1.8" fill="#000"/>
<circle cx="474.80" cy="463.30" r="1.8" fill="#000"/>
<circle cx="472.50" cy="466.10" r="1.8" fill="#000"/>
<circle cx="480.60" cy="462.10" r="1.8" fill="#000"/>
<circle cx="483.40" cy="462.10" r="1.8" fill="#000"/>
<circle cx="478.30" cy="467.30" r="1.8" fill="#000"/>
<circle cx="480.00" cy="469.00" r="1.8" fill="#000"/>
<circle cx="481.70" cy="470.20" r="1.8" fill="#000"/>
<circle cx="483.40" cy="469.60" r="1.8" fill="#000"/>
<circle cx="486.90" cy="468.20" r="1.8" fill="#000"/>
<circle cx="490.40" cy="466.10" r="1.8" fill="#000"/>
<circle cx="490.40" cy="467.90" r="1.8" fill="#000"/>
<circle cx="490.40" cy="469.60" r="1.8" fill="#000"/>
<text x="48.20" y="569.00" font-size="16" text-anchor="middle" font-weight="bold" font-style="normal" fill="#000" >E</text>
<line x1="55.00" y1="593.80" x2="55.00" y2="761.00" stroke="#000" stroke-width="2" />
<line x1="50.00" y1="760.00" x2="55.00" y2="760.00" stroke="#000" stroke-width="1.8" />
<text x="48.50" y="765.05" font-size="12" text-anchor="end" font-weight="normal" font-style="normal" fill="#111" >0</text>
<line x1="50.00" y1="726.96" x2="55.00" y2="726.96" stroke="#000" stroke-width="1.8" />
<text x="48.50" y="732.01" font-size="12" text-anchor="end" font-weight="normal" font-style="normal" fill="#111" >1</text>
<line x1="50.00" y1="693.92" x2="55.00" y2="693.92" stroke="#000" stroke-width="1.8" />
<text x="48.50" y="698.97" font-size="12" text-anchor="end" font-weight="normal" font-style="normal" fill="#111" >2</text>
<line x1="50.00" y1="660.88" x2="55.00" y2="660.88" stroke="#000" stroke-width="1.8" />
<text x="48.50" y="665.93" font-size="12" text-anchor="end" font-weight="normal" font-style="normal" fill="#111" >3</text>
<line x1="50.00" y1="627.84" x2="55.00" y2="627.84" stroke="#000" stroke-width="1.8" />
<text x="48.50" y="632.89" font-size="12" text-anchor="end" font-weight="normal" font-style="normal" fill="#111" >4</text>
<line x1="50.00" y1="594.80" x2="55.00" y2="594.80" stroke="#000" stroke-width="1.8" />
<text x="48.50" y="599.85" font-size="12" text-anchor="end" font-weight="normal" font-style="normal" fill="#111" >5</text>
<line x1="54.00" y1="760.00" x2="180.00" y2="760.00" stroke="#000" stroke-width="2" />
<text transform="translate(33,674.7) rotate(-90)" font-size="15" font-style="italic" text-anchor="middle" fill="#111">Bcl-2/Mcl-1</text>
<text x="117.70" y="592.00" font-size="11.2" text-anchor="middle" font-weight="normal" font-style="normal" fill="#111" >p=.007</text>
<polyline points="69.70,607.00 69.70,600.00 135.00,600.00 135.00,609.00" fill="none" stroke="#000" stroke-width="1.8" stroke-linejoin="round"  opacity="1"/>
<polyline points="102.70,615.00 102.70,609.20 168.00,609.20 168.00,615.00" fill="none" stroke="#000" stroke-width="1.8" stroke-linejoin="round"  opacity="1"/>
<circle cx="70.50" cy="617.00" r="1.8" fill="#000"/>
<circle cx="70.50" cy="633.75" r="1.8" fill="#000"/>
<circle cx="70.50" cy="710.75" r="1.8" fill="#000"/>
<circle cx="73.75" cy="728.75" r="1.8" fill="#000"/>
<circle cx="68.00" cy="733.25" r="1.8" fill="#000"/>
<circle cx="70.50" cy="742.50" r="1.8" fill="#000"/>
<circle cx="73.00" cy="755.50" r="1.8" fill="#000"/>
<circle cx="67.50" cy="758.00" r="1.8" fill="#000"/>
<circle cx="101.25" cy="744.50" r="1.8" fill="#000"/>
<circle cx="107.50" cy="747.00" r="1.8" fill="#000"/>
<circle cx="95.00" cy="750.00" r="1.8" fill="#000"/>
<circle cx="102.50" cy="749.50" r="1.8" fill="#000"/>
<circle cx="96.25" cy="755.00" r="1.8" fill="#000"/>
<circle cx="107.50" cy="755.50" r="1.8" fill="#000"/>
<circle cx="101.25" cy="758.75" r="1.8" fill="#000"/>
<circle cx="129.50" cy="750.00" r="1.8" fill="#000"/>
<circle cx="135.50" cy="750.00" r="1.8" fill="#000"/>
<circle cx="125.00" cy="757.50" r="1.8" fill="#000"/>
<circle cx="130.00" cy="758.50" r="1.8" fill="#000"/>
<circle cx="133.00" cy="758.50" r="1.8" fill="#000"/>
<circle cx="138.00" cy="758.00" r="1.8" fill="#000"/>
<circle cx="155.00" cy="753.75" r="1.8" fill="#000"/>
<circle cx="163.75" cy="756.25" r="1.8" fill="#000"/>
<circle cx="168.75" cy="753.00" r="1.8" fill="#000"/>
<line x1="60.50" y1="730.50" x2="80.50" y2="730.50" stroke="#000" stroke-width="2.3" />
<line x1="91.25" y1="750.75" x2="112.00" y2="750.75" stroke="#000" stroke-width="2.3" />
<line x1="122.50" y1="758.00" x2="142.50" y2="758.00" stroke="#000" stroke-width="2.3" />
<line x1="153.75" y1="753.50" x2="173.75" y2="753.50" stroke="#000" stroke-width="2.3" />
<text transform="translate(73.0,771.5) rotate(-45)" font-size="13.3" text-anchor="end" fill="#111">CCND1</text>
<text transform="translate(104.0,771.5) rotate(-45)" font-size="13.3" text-anchor="end" fill="#111">MAF</text>
<text transform="translate(135.0,771.5) rotate(-45)" font-size="13.3" text-anchor="end" fill="#111">MMSET</text>
<text transform="translate(166.0,771.5) rotate(-45)" font-size="13.3" text-anchor="end" fill="#111">Other</text>
<text x="253.70" y="568.50" font-size="16" text-anchor="middle" font-weight="bold" font-style="normal" fill="#000" >F</text>
<line x1="268.30" y1="589.60" x2="268.30" y2="759.60" stroke="#000" stroke-width="2" />
<line x1="263.30" y1="758.60" x2="268.30" y2="758.60" stroke="#000" stroke-width="1.6" />
<text x="251.30" y="763.60" font-size="10.5" text-anchor="middle" font-weight="normal" font-style="normal" fill="#111" >10</text>
<text x="259.60" y="756.20" font-size="6" text-anchor="middle" font-weight="normal" font-style="normal" fill="#111" >0</text>
<line x1="265.30" y1="748.49" x2="268.30" y2="748.49" stroke="#000" stroke-width="1.2" />
<line x1="265.30" y1="742.57" x2="268.30" y2="742.57" stroke="#000" stroke-width="1.2" />
<line x1="265.30" y1="738.37" x2="268.30" y2="738.37" stroke="#000" stroke-width="1.2" />
<line x1="265.30" y1="735.11" x2="268.30" y2="735.11" stroke="#000" stroke-width="1.2" />
<line x1="265.30" y1="732.45" x2="268.30" y2="732.45" stroke="#000" stroke-width="1.2" />
<line x1="265.30" y1="730.20" x2="268.30" y2="730.20" stroke="#000" stroke-width="1.2" />
<line x1="265.30" y1="728.26" x2="268.30" y2="728.26" stroke="#000" stroke-width="1.2" />
<line x1="265.30" y1="726.54" x2="268.30" y2="726.54" stroke="#000" stroke-width="1.2" />
<line x1="263.30" y1="725.00" x2="268.30" y2="725.00" stroke="#000" stroke-width="1.6" />
<text x="251.30" y="730.00" font-size="10.5" text-anchor="middle" font-weight="normal" font-style="normal" fill="#111" >10</text>
<text x="259.60" y="722.60" font-size="6" text-anchor="middle" font-weight="normal" font-style="normal" fill="#111" >1</text>
<line x1="265.30" y1="714.89" x2="268.30" y2="714.89" stroke="#000" stroke-width="1.2" />
<line x1="265.30" y1="708.97" x2="268.30" y2="708.97" stroke="#000" stroke-width="1.2" />
<line x1="265.30" y1="704.77" x2="268.30" y2="704.77" stroke="#000" stroke-width="1.2" />
<line x1="265.30" y1="701.51" x2="268.30" y2="701.51" stroke="#000" stroke-width="1.2" />
<line x1="265.30" y1="698.85" x2="268.30" y2="698.85" stroke="#000" stroke-width="1.2" />
<line x1="265.30" y1="696.60" x2="268.30" y2="696.60" stroke="#000" stroke-width="1.2" />
<line x1="265.30" y1="694.66" x2="268.30" y2="694.66" stroke="#000" stroke-width="1.2" />
<line x1="265.30" y1="692.94" x2="268.30" y2="692.94" stroke="#000" stroke-width="1.2" />
<line x1="263.30" y1="691.40" x2="268.30" y2="691.40" stroke="#000" stroke-width="1.6" />
<text x="251.30" y="696.40" font-size="10.5" text-anchor="middle" font-weight="normal" font-style="normal" fill="#111" >10</text>
<text x="259.60" y="689.00" font-size="6" text-anchor="middle" font-weight="normal" font-style="normal" fill="#111" >2</text>
<line x1="265.30" y1="681.29" x2="268.30" y2="681.29" stroke="#000" stroke-width="1.2" />
<line x1="265.30" y1="675.37" x2="268.30" y2="675.37" stroke="#000" stroke-width="1.2" />
<line x1="265.30" y1="671.17" x2="268.30" y2="671.17" stroke="#000" stroke-width="1.2" />
<line x1="265.30" y1="667.91" x2="268.30" y2="667.91" stroke="#000" stroke-width="1.2" />
<line x1="265.30" y1="665.25" x2="268.30" y2="665.25" stroke="#000" stroke-width="1.2" />
<line x1="265.30" y1="663.00" x2="268.30" y2="663.00" stroke="#000" stroke-width="1.2" />
<line x1="265.30" y1="661.06" x2="268.30" y2="661.06" stroke="#000" stroke-width="1.2" />
<line x1="265.30" y1="659.34" x2="268.30" y2="659.34" stroke="#000" stroke-width="1.2" />
<line x1="263.30" y1="657.80" x2="268.30" y2="657.80" stroke="#000" stroke-width="1.6" />
<text x="251.30" y="662.80" font-size="10.5" text-anchor="middle" font-weight="normal" font-style="normal" fill="#111" >10</text>
<text x="259.60" y="655.40" font-size="6" text-anchor="middle" font-weight="normal" font-style="normal" fill="#111" >3</text>
<line x1="265.30" y1="647.69" x2="268.30" y2="647.69" stroke="#000" stroke-width="1.2" />
<line x1="265.30" y1="641.77" x2="268.30" y2="641.77" stroke="#000" stroke-width="1.2" />
<line x1="265.30" y1="637.57" x2="268.30" y2="637.57" stroke="#000" stroke-width="1.2" />
<line x1="265.30" y1="634.31" x2="268.30" y2="634.31" stroke="#000" stroke-width="1.2" />
<line x1="265.30" y1="631.65" x2="268.30" y2="631.65" stroke="#000" stroke-width="1.2" />
<line x1="265.30" y1="629.40" x2="268.30" y2="629.40" stroke="#000" stroke-width="1.2" />
<line x1="265.30" y1="627.46" x2="268.30" y2="627.46" stroke="#000" stroke-width="1.2" />
<line x1="265.30" y1="625.74" x2="268.30" y2="625.74" stroke="#000" stroke-width="1.2" />
<line x1="263.30" y1="624.20" x2="268.30" y2="624.20" stroke="#000" stroke-width="1.6" />
<text x="251.30" y="629.20" font-size="10.5" text-anchor="middle" font-weight="normal" font-style="normal" fill="#111" >10</text>
<text x="259.60" y="621.80" font-size="6" text-anchor="middle" font-weight="normal" font-style="normal" fill="#111" >4</text>
<line x1="265.30" y1="614.09" x2="268.30" y2="614.09" stroke="#000" stroke-width="1.2" />
<line x1="265.30" y1="608.17" x2="268.30" y2="608.17" stroke="#000" stroke-width="1.2" />
<line x1="265.30" y1="603.97" x2="268.30" y2="603.97" stroke="#000" stroke-width="1.2" />
<line x1="265.30" y1="600.71" x2="268.30" y2="600.71" stroke="#000" stroke-width="1.2" />
<line x1="265.30" y1="598.05" x2="268.30" y2="598.05" stroke="#000" stroke-width="1.2" />
<line x1="265.30" y1="595.80" x2="268.30" y2="595.80" stroke="#000" stroke-width="1.2" />
<line x1="265.30" y1="593.86" x2="268.30" y2="593.86" stroke="#000" stroke-width="1.2" />
<line x1="265.30" y1="592.14" x2="268.30" y2="592.14" stroke="#000" stroke-width="1.2" />
<line x1="263.30" y1="590.60" x2="268.30" y2="590.60" stroke="#000" stroke-width="1.6" />
<text x="251.30" y="595.60" font-size="10.5" text-anchor="middle" font-weight="normal" font-style="normal" fill="#111" >10</text>
<text x="259.60" y="588.20" font-size="6" text-anchor="middle" font-weight="normal" font-style="normal" fill="#111" >5</text>
<line x1="267.30" y1="758.60" x2="396.00" y2="758.60" stroke="#000" stroke-width="2" />
<text transform="translate(237.6,671.9) rotate(-90)" font-size="14.3" text-anchor="middle" fill="#111">LD50 (nM)</text>
<circle cx="281.75" cy="613.75" r="1.8" fill="#000"/>
<circle cx="287.50" cy="613.75" r="1.8" fill="#000"/>
<circle cx="284.25" cy="684.50" r="1.8" fill="#000"/>
<circle cx="281.75" cy="698.75" r="1.8" fill="#000"/>
<circle cx="287.50" cy="698.75" r="1.8" fill="#000"/>
<circle cx="284.25" cy="705.00" r="1.8" fill="#000"/>
<circle cx="284.25" cy="719.50" r="1.8" fill="#000"/>
<circle cx="284.25" cy="730.50" r="1.8" fill="#000"/>
<circle cx="316.25" cy="613.75" r="1.8" fill="#000"/>
<circle cx="319.25" cy="627.50" r="1.8" fill="#000"/>
<circle cx="313.00" cy="629.50" r="1.8" fill="#000"/>
<circle cx="319.25" cy="637.50" r="1.8" fill="#000"/>
<circle cx="313.00" cy="647.50" r="1.8" fill="#000"/>
<circle cx="319.25" cy="647.50" r="1.8" fill="#000"/>
<circle cx="344.75" cy="613.75" r="1.8" fill="#000"/>
<circle cx="351.00" cy="613.75" r="1.8" fill="#000"/>
<circle cx="344.75" cy="628.75" r="1.8" fill="#000"/>
<circle cx="351.00" cy="631.25" r="1.8" fill="#000"/>
<circle cx="348.00" cy="624.50" r="1.8" fill="#000"/>
<circle cx="348.00" cy="647.50" r="1.8" fill="#000"/>
<circle cx="376.75" cy="613.75" r="1.8" fill="#000"/>
<circle cx="382.50" cy="619.50" r="1.8" fill="#000"/>
<circle cx="379.75" cy="641.75" r="1.8" fill="#000"/>
<line x1="274.25" y1="698.75" x2="295.00" y2="698.75" stroke="#000" stroke-width="2.3" />
<line x1="306.00" y1="631.75" x2="326.75" y2="631.75" stroke="#000" stroke-width="2.3" />
<line x1="337.50" y1="625.00" x2="358.50" y2="625.00" stroke="#000" stroke-width="2.3" />
<line x1="369.25" y1="619.50" x2="390.50" y2="619.50" stroke="#000" stroke-width="2.3" />
<text transform="translate(287.0,770.1) rotate(-45)" font-size="13.3" text-anchor="end" fill="#111">CCND1</text>
<text transform="translate(318.5,770.1) rotate(-45)" font-size="13.3" text-anchor="end" fill="#111">MAF</text>
<text transform="translate(350.5,770.1) rotate(-45)" font-size="13.3" text-anchor="end" fill="#111">MMSET</text>
<text transform="translate(382.5,770.1) rotate(-45)" font-size="13.3" text-anchor="end" fill="#111">Other</text>
</svg>
</body></html>
